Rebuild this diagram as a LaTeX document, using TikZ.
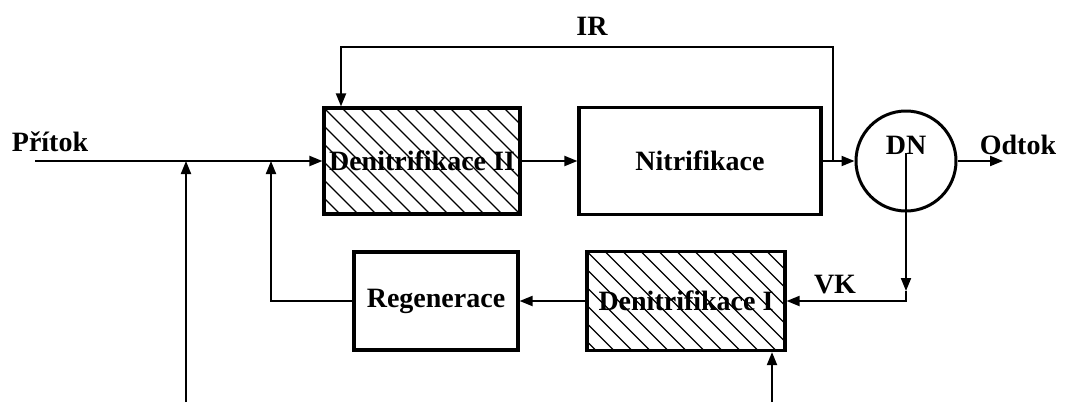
\documentclass[tikz,border=0pt]{standalone}
\usepackage{fontspec}
\setmainfont{Liberation Serif}
\usetikzlibrary{arrows.meta,calc}
\begin{document}
\begin{tikzpicture}[x=1pt,y=-1pt,
  every node/.style={font=\fontsize{28}{32}\selectfont\bfseries},
  blk/.style={draw,line width=3.2pt,inner sep=0pt,rectangle},
  hatchbox/.style={blk,path picture={
     \foreach \i in {-8,...,20}{
       \draw[line width=1.2pt] ($(path picture bounding box.north west)+(\i*18pt,0pt)$) -- ++(130pt,-130pt);}}},
  arr/.style={line width=2pt,-{Triangle[length=13pt,width=10pt]}},
  lbl/.style={inner sep=0pt}]
\useasboundingbox (0,0) rectangle (1066,402);
\node[hatchbox,minimum width=196pt,minimum height=106pt] (d2) at (422,161) {Denitrifikace II};
\node[blk,minimum width=242pt,minimum height=107pt] (nit) at (700,161) {Nitrifikace};
\node[draw,circle,line width=3pt,minimum size=100pt,inner sep=0pt] (dn) at (906,161) {};
\node[lbl] (dnt) at (906,145) {DN};
\node[hatchbox,minimum width=198pt,minimum height=99pt] (d1) at (686,301) {Denitrifikace I};
\node[blk,minimum width=164pt,minimum height=98pt] (reg) at (436,301) {Regenerace};
\node[lbl] (pr) at (50,142) {Přítok};
\node[lbl] (ir) at (592,26) {IR};
\node[lbl] (od) at (1018,145) {Odtok};
\node[lbl] (vk) at (835,285) {VK};
\coordinate (inp) at (35,161);
\coordinate (b1) at (186,402);
\coordinate (b2) at (271,161);
\coordinate (b3) at (772,402);
\coordinate (irs) at (833,161);
\coordinate (irt) at (341,47);
\coordinate (out) at (1003,161);
\coordinate (dnc) at (906,153);
\coordinate (vkm) at (906,291);
\draw[arr] (inp) -- (d2.west);
\draw[arr] (b1) -- (b1 |- d2.west);
\draw[arr] (reg.west) -| (b2);
\draw[arr] (d2.east) -- (nit.west);
\draw[arr] (nit.east) -- (dn.west);
\draw[arr] (irs) |- (irt) -- (irt |- d2.north);
\draw[arr] (dn.east) -- (out);
\draw[arr] (dnc) -- (vkm);
\draw[arr] (vkm) |- (d1.east);
\draw[arr] (d1.west) -- (reg.east);
\draw[arr] (b3) -- (b3 |- d1.south);
\end{tikzpicture}
\end{document}
